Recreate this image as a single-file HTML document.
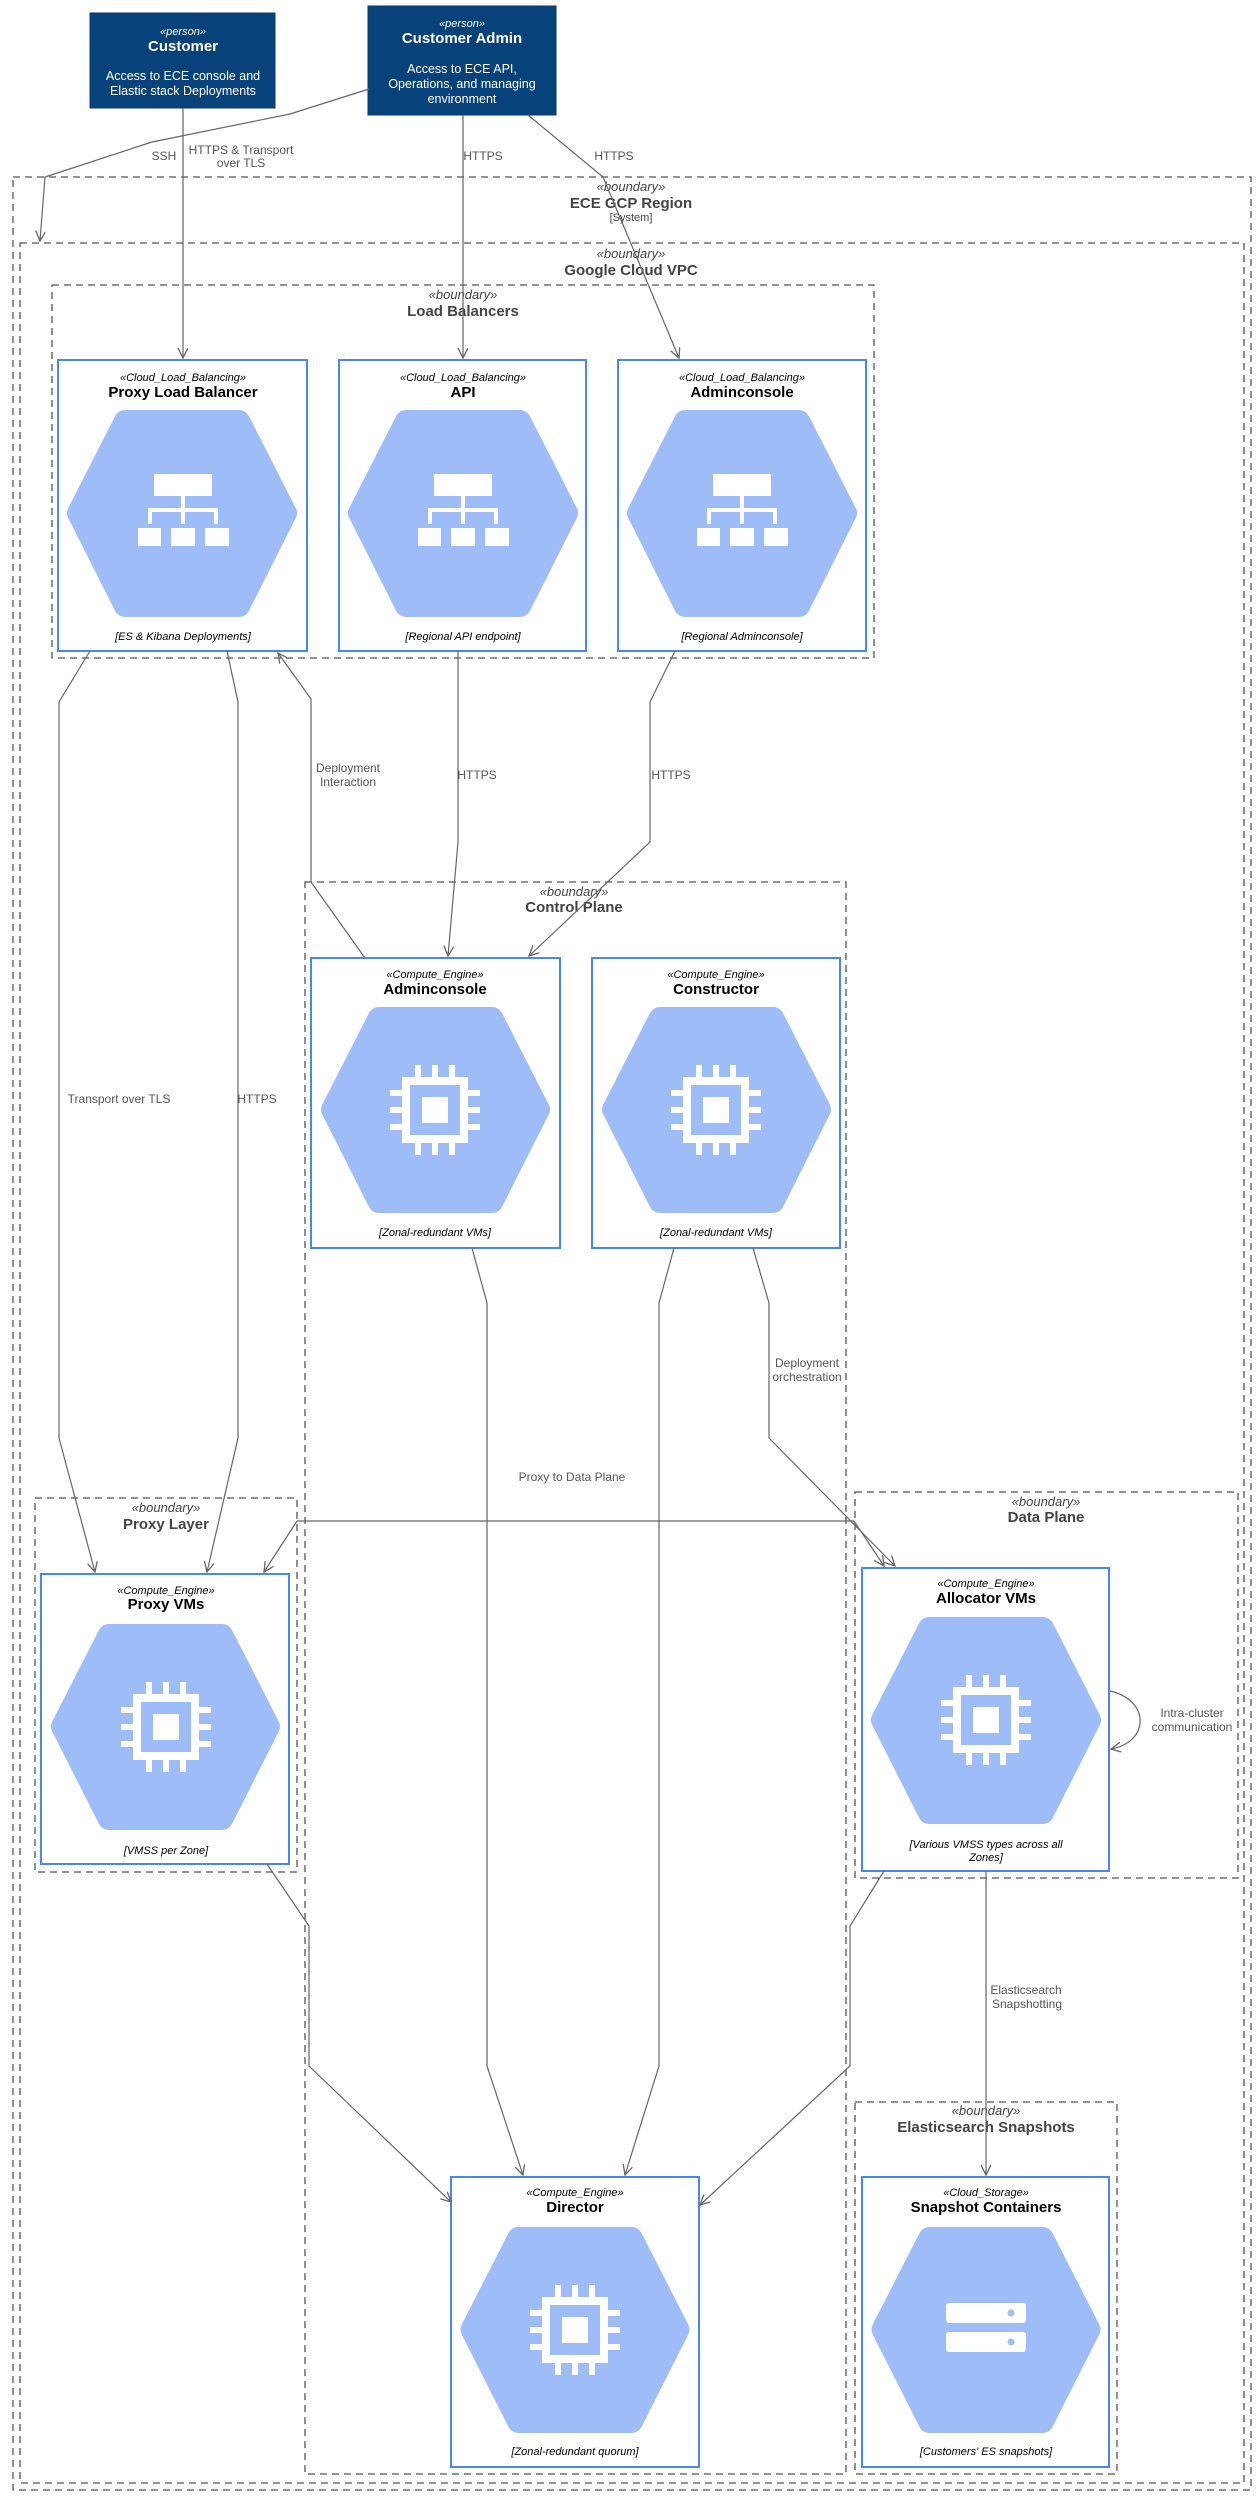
<!DOCTYPE html>
<html><head><meta charset="utf-8"><style>
html,body{margin:0;padding:0;background:#fff;}
svg{display:block;font-family:"Liberation Sans","DejaVu Sans",sans-serif;}
.b{fill:none;stroke:#555;stroke-width:1.3;stroke-dasharray:7,5;}
.c{fill:none;stroke:#666;stroke-width:1.2;}
.box{fill:#fff;stroke:#4a86f7;stroke-width:2;}
.st{font-size:11px;font-style:italic;fill:#000;text-anchor:middle;}
.ti{font-size:15px;font-weight:bold;fill:#000;text-anchor:middle;}
.ft{font-size:11px;font-style:italic;fill:#000;text-anchor:middle;}
.bs{font-size:13px;font-style:italic;fill:#444;text-anchor:middle;}
.bt{font-size:15px;font-weight:bold;fill:#444;text-anchor:middle;}
.lb{font-size:12px;fill:#555;text-anchor:middle;}
.pw{fill:#fff;text-anchor:middle;}
</style></head><body>
<svg width="1260" height="2498" viewBox="0 0 1260 2498" xmlns="http://www.w3.org/2000/svg">
<defs>
<marker id="a" markerWidth="12" markerHeight="12" refX="10" refY="5" orient="auto" markerUnits="userSpaceOnUse">
<path d="M0,0 L10,5 L0,10" fill="none" stroke="#666" stroke-width="1.3"/>
</marker>
<symbol id="hex" viewBox="0 0 230 207">
<polygon points="58,11 172,11 219,103 172,196 58,196 11,103" fill="#9ebdf8" stroke="#9ebdf8" stroke-width="22" stroke-linejoin="round"/>
</symbol>
<g id="lbi" fill="#fff">
<rect x="-29" y="-39" width="58" height="22"/>
<rect x="-2" y="-17" width="4" height="13"/>
<rect x="-35" y="-5" width="70" height="4"/>
<rect x="-35" y="-5" width="4" height="16"/><rect x="-2" y="-5" width="4" height="16"/><rect x="31" y="-5" width="4" height="16"/>
<rect x="-45" y="15" width="23" height="18"/><rect x="-12" y="15" width="24" height="18"/><rect x="22" y="15" width="24" height="18"/>
</g>
<g id="chip" fill="#fff">
<path d="M-33,-33 H33 V33 H-33 Z M-25,-25 V25 H25 V-25 Z" fill-rule="evenodd"/>
<rect x="-13" y="-13" width="26" height="26"/>
<rect x="-20" y="-45" width="6" height="12"/><rect x="-3" y="-45" width="6" height="12"/><rect x="14" y="-45" width="6" height="12"/>
<rect x="-20" y="33" width="6" height="12"/><rect x="-3" y="33" width="6" height="12"/><rect x="14" y="33" width="6" height="12"/>
<rect x="-45" y="-20" width="12" height="6"/><rect x="-45" y="-3" width="12" height="6"/><rect x="-45" y="14" width="12" height="6"/>
<rect x="33" y="-20" width="12" height="6"/><rect x="33" y="-3" width="12" height="6"/><rect x="33" y="14" width="12" height="6"/>
</g>
<g id="stor">
<rect x="-40" y="-27" width="80" height="20" rx="3" fill="#fff"/>
<rect x="-40" y="2" width="80" height="20" rx="3" fill="#fff"/>
<circle cx="25" cy="-17" r="3.5" fill="#9ebdf8"/><circle cx="25" cy="12" r="3.5" fill="#9ebdf8"/>
</g>
</defs>

<!-- boundaries -->
<rect class="b" x="13" y="177" width="1238" height="2313"/>
<text class="bs" x="631" y="191">«boundary»</text>
<text class="bt" x="631" y="208">ECE GCP Region</text>
<text x="631" y="221" font-size="11" fill="#444" text-anchor="middle">[System]</text>
<rect class="b" x="20" y="243" width="1224" height="2240"/>
<text class="bs" x="631" y="258">«boundary»</text>
<text class="bt" x="631" y="275">Google Cloud VPC</text>
<rect class="b" x="52" y="285" width="822" height="373"/>
<text class="bs" x="463" y="299">«boundary»</text>
<text class="bt" x="463" y="316">Load Balancers</text>
<rect class="b" x="305" y="882" width="541" height="1592"/>
<text class="bs" x="574" y="896">«boundary»</text>
<text class="bt" x="574" y="912">Control Plane</text>
<rect class="b" x="35" y="1498" width="262" height="374"/>
<text class="bs" x="166" y="1512">«boundary»</text>
<text class="bt" x="166" y="1529">Proxy Layer</text>
<rect class="b" x="855" y="1492" width="383" height="386"/>
<text class="bs" x="1046" y="1506">«boundary»</text>
<text class="bt" x="1046" y="1522">Data Plane</text>
<rect class="b" x="855" y="2102" width="262" height="372"/>
<text class="bs" x="986" y="2115">«boundary»</text>
<text class="bt" x="986" y="2132">Elasticsearch Snapshots</text>

<!-- persons -->
<rect x="90" y="13" width="185" height="95" fill="#08427b" stroke="#073b6f"/>
<text class="pw" x="183" y="35" font-size="11" font-style="italic">«person»</text>
<text class="pw" x="183" y="51" font-size="15" font-weight="bold">Customer</text>
<text class="pw" x="183" y="80" font-size="12.5">Access to ECE console and</text>
<text class="pw" x="183" y="95" font-size="12.5">Elastic stack Deployments</text>
<rect x="368" y="6" width="188" height="109" fill="#08427b" stroke="#073b6f"/>
<text class="pw" x="462" y="27" font-size="11" font-style="italic">«person»</text>
<text class="pw" x="462" y="43" font-size="15" font-weight="bold">Customer Admin</text>
<text class="pw" x="462" y="73" font-size="12.5">Access to ECE API,</text>
<text class="pw" x="462" y="88" font-size="12.5">Operations, and managing</text>
<text class="pw" x="462" y="103" font-size="12.5">environment</text>

<!-- LB boxes -->
<rect class="box" x="58" y="360" width="249" height="291"/>
<text class="st" x="183" y="381">«Cloud_Load_Balancing»</text>
<text class="ti" x="183" y="397">Proxy Load Balancer</text>
<use href="#hex" x="67" y="410" width="230" height="207"/>
<use href="#lbi" x="183" y="513"/>
<text class="ft" x="183" y="640">[ES &amp; Kibana Deployments]</text>

<rect class="box" x="339" y="360" width="247" height="291"/>
<text class="st" x="463" y="381">«Cloud_Load_Balancing»</text>
<text class="ti" x="463" y="397">API</text>
<use href="#hex" x="348" y="410" width="230" height="207"/>
<use href="#lbi" x="463" y="513"/>
<text class="ft" x="463" y="640">[Regional API endpoint]</text>

<rect class="box" x="618" y="360" width="248" height="291"/>
<text class="st" x="742" y="381">«Cloud_Load_Balancing»</text>
<text class="ti" x="742" y="397">Adminconsole</text>
<use href="#hex" x="627" y="410" width="230" height="207"/>
<use href="#lbi" x="742" y="513"/>
<text class="ft" x="742" y="640">[Regional Adminconsole]</text>

<!-- CP boxes -->
<rect class="box" x="311" y="958" width="249" height="290"/>
<text class="st" x="435" y="978">«Compute_Engine»</text>
<text class="ti" x="435" y="994">Adminconsole</text>
<use href="#hex" x="320" y="1007" width="231" height="206"/>
<use href="#chip" x="435" y="1110"/>
<text class="ft" x="435" y="1236">[Zonal-redundant VMs]</text>

<rect class="box" x="592" y="958" width="248" height="290"/>
<text class="st" x="716" y="978">«Compute_Engine»</text>
<text class="ti" x="716" y="994">Constructor</text>
<use href="#hex" x="601" y="1007" width="231" height="206"/>
<use href="#chip" x="716" y="1110"/>
<text class="ft" x="716" y="1236">[Zonal-redundant VMs]</text>

<!-- Proxy VMs -->
<rect class="box" x="41" y="1574" width="248" height="290"/>
<text class="st" x="166" y="1594">«Compute_Engine»</text>
<text class="ti" x="166" y="1609">Proxy VMs</text>
<use href="#hex" x="50" y="1624" width="231" height="206"/>
<use href="#chip" x="166" y="1727"/>
<text class="ft" x="166" y="1854">[VMSS  per Zone]</text>

<!-- Allocator -->
<rect class="box" x="862" y="1568" width="247" height="303"/>
<text class="st" x="986" y="1587">«Compute_Engine»</text>
<text class="ti" x="986" y="1603">Allocator VMs</text>
<use href="#hex" x="871" y="1617" width="230" height="207"/>
<use href="#chip" x="986" y="1720"/>
<text class="ft" x="986" y="1848">[Various VMSS types across all</text>
<text class="ft" x="986" y="1861">Zones]</text>

<!-- Director -->
<rect class="box" x="451" y="2177" width="248" height="290"/>
<text class="st" x="575" y="2196">«Compute_Engine»</text>
<text class="ti" x="575" y="2212">Director</text>
<use href="#hex" x="460" y="2227" width="230" height="206"/>
<use href="#chip" x="575" y="2330"/>
<text class="ft" x="575" y="2455">[Zonal-redundant quorum]</text>

<!-- Snapshot -->
<rect class="box" x="862" y="2177" width="247" height="290"/>
<text class="st" x="986" y="2196">«Cloud_Storage»</text>
<text class="ti" x="986" y="2212">Snapshot Containers</text>
<use href="#hex" x="871" y="2227" width="230" height="206"/>
<use href="#stor" x="986" y="2330"/>
<text class="ft" x="986" y="2455">[Customers' ES snapshots]</text>

<!-- connectors -->
<polyline class="c" points="183,108 183,358" marker-end="url(#a)"/>
<polyline class="c" points="463,115 463,358" marker-end="url(#a)"/>
<polyline class="c" points="528,115 603,177 679,358" marker-end="url(#a)"/>
<polyline class="c" points="369,89 290,114 152,142 45,177 40,241" marker-end="url(#a)"/>
<text class="lb" x="164" y="160">SSH</text>
<text class="lb" x="241" y="154">HTTPS &amp; Transport</text>
<text class="lb" x="241" y="167">over TLS</text>
<text class="lb" x="483" y="160">HTTPS</text>
<text class="lb" x="614" y="160">HTTPS</text>

<polyline class="c" points="90,651 59,702 59,1438 95,1572" marker-end="url(#a)"/>
<text class="lb" x="119" y="1103">Transport over TLS</text>
<polyline class="c" points="227,651 238,702 238,1438 207,1572" marker-end="url(#a)"/>
<text class="lb" x="257" y="1103">HTTPS</text>

<polyline class="c" points="365,958 311,882 311,699 278,653" marker-end="url(#a)"/>
<text class="lb" x="348" y="772">Deployment</text>
<text class="lb" x="348" y="786">Interaction</text>
<polyline class="c" points="458,651 458,842 448,956" marker-end="url(#a)"/>
<text class="lb" x="477" y="779">HTTPS</text>
<polyline class="c" points="675,651 650,702 650,842 529,956" marker-end="url(#a)"/>
<text class="lb" x="671" y="779">HTTPS</text>

<polyline class="c" points="753,1248 769,1303 769,1438 895,1566" marker-end="url(#a)"/>
<text class="lb" x="807" y="1367">Deployment</text>
<text class="lb" x="807" y="1381">orchestration</text>

<polyline class="c" points="297,1521 854,1521" />
<polyline class="c" points="297,1521 264,1572" marker-end="url(#a)"/>
<polyline class="c" points="854,1521 884,1566" marker-end="url(#a)"/>
<text class="lb" x="572" y="1481" font-size="11">Proxy to Data Plane</text>

<polyline class="c" points="472,1248 487,1303 487,2066 523,2175" marker-end="url(#a)"/>
<polyline class="c" points="674,1248 659,1303 659,2066 625,2175" marker-end="url(#a)"/>
<polyline class="c" points="267,1864 309,1926 309,2066 451,2202" marker-end="url(#a)"/>
<polyline class="c" points="884,1871 850,1926 850,2066 700,2205" marker-end="url(#a)"/>
<polyline class="c" points="986,1871 986,2175" marker-end="url(#a)"/>
<text class="lb" x="1026" y="1994">Elasticsearch</text>
<text class="lb" x="1027" y="2008">Snapshotting</text>

<path class="c" d="M1110,1691 C1150,1700 1150,1742 1111,1749" marker-end="url(#a)"/>
<text class="lb" x="1192" y="1717">Intra-cluster</text>
<text class="lb" x="1192" y="1731">communication</text>
</svg>
</body></html>
